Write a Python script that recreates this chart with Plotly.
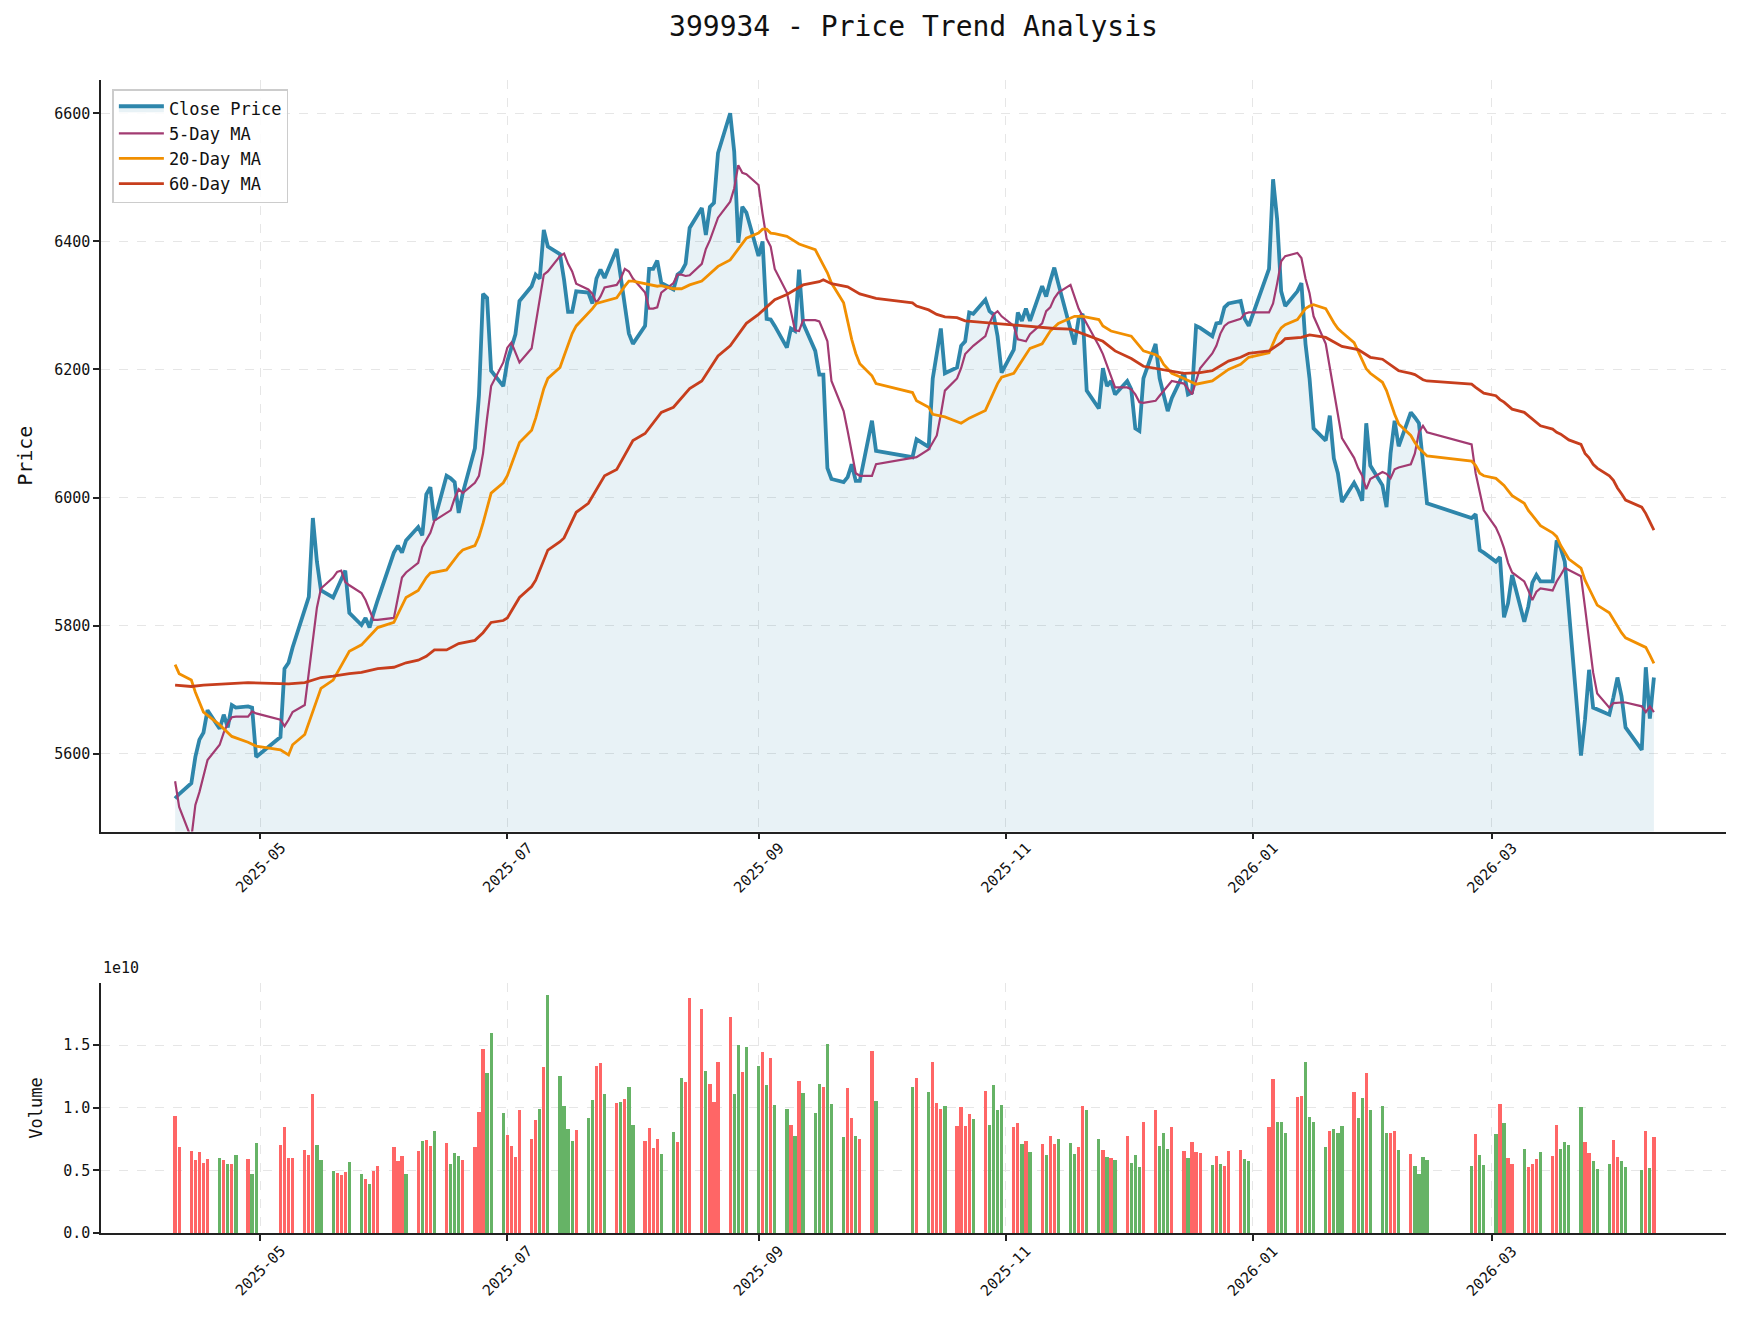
import pandas as pd
import plotly.graph_objects as go

# ---------------- data ----------------
holidays = ['2025-05-01', '2025-05-02', '2025-05-05', '2025-06-02',
            '2025-10-01', '2025-10-02', '2025-10-03', '2025-10-06', '2025-10-07', '2025-10-08',
            '2026-01-01', '2026-01-02',
            '2026-02-16', '2026-02-17', '2026-02-18', '2026-02-19', '2026-02-20', '2026-02-23',
            '2026-04-06']
dates = [d.strftime('%Y-%m-%d') for d in pd.bdate_range('2025-04-10', '2026-04-10')
         if d.strftime('%Y-%m-%d') not in holidays]

close = [
    # 2025-04
    5530, 5537, 5554, 5595, 5622, 5633, 5668, 5639, 5661, 5641, 5676, 5672, 5674, 5672, 5595,
    # 2025-05
    5626, 5733, 5742, 5766, 5825, 5845, 5968, 5900, 5855, 5844, 5858, 5872, 5886, 5820,
    5801, 5812, 5797, 5820, 5840,
    # 2025-06
    5914, 5925, 5914, 5933, 5954, 5941, 6005, 6016, 5964, 6034, 6030, 6024, 5976, 6007,
    6077, 6160, 6318, 6312, 6198, 6174,
    # 2025-07
    6213, 6233, 6255, 6307, 6330, 6348, 6342, 6418, 6392, 6380, 6340, 6290, 6290, 6322,
    6320, 6303, 6342, 6356, 6343, 6388, 6345, 6298, 6256,
    # 2025-08
    6240, 6268, 6357, 6357, 6370, 6335, 6325, 6348, 6353, 6365, 6421, 6452, 6410, 6454,
    6460, 6538, 6600, 6540, 6398, 6454, 6445,
    # 2025-09
    6377, 6400, 6279, 6278, 6268, 6234, 6264, 6260, 6356, 6272, 6229, 6192, 6192, 6046,
    6029, 6024, 6032, 6052, 6026, 6026, 6120, 6073,
    # 2025-10
    6063, 6091, 6079, 6186, 6225, 6264, 6194, 6203, 6237, 6244, 6289, 6287, 6309, 6291,
    6286, 6252, 6195,
    # 2025-11
    6231, 6289, 6276, 6295, 6276, 6330, 6314, 6338, 6359, 6334, 6260, 6239, 6279, 6287,
    6167, 6139, 6202, 6174, 6182, 6161,
    # 2025-12
    6182, 6169, 6108, 6104, 6186, 6240, 6186, 6161, 6135, 6155, 6195, 6161, 6164, 6268,
    6265, 6252, 6272, 6273, 6297, 6303, 6307, 6279, 6268,
    # 2026-01
    6357, 6497, 6435, 6322, 6299, 6322, 6335, 6240, 6186, 6108, 6089, 6128, 6061, 6038,
    5993, 6023, 6011, 5995, 6116, 6050,
    # 2026-02
    6019, 5985, 6069, 6120, 6080, 6133, 6125, 6116, 6055, 5991, 5968, 5974, 5918, 5914,
    # 2026-03
    5900, 5907, 5813, 5835, 5879, 5806, 5830, 5867, 5879, 5869, 5869, 5933, 5921, 5900,
    5825, 5597, 5654, 5731, 5672, 5669, 5661, 5688,
    # 2026-04
    5719, 5690, 5641, 5606, 5735, 5655, 5719,
]

ma5 = [
    5557, 5517, 5468, 5520, 5540, 5563, 5590, 5614, 5633, 5647, 5657, 5658, 5658, 5666, 5663,
    5653, 5643, 5653, 5665, 5676, 5727, 5781, 5828, 5858, 5875, 5884, 5886, 5868, 5863,
    5851, 5840, 5824, 5809, 5809,
    5812, 5844, 5875, 5883, 5898, 5923, 5933, 5945, 5964, 5976, 5980, 5999, 6013, 6007,
    6023, 6034, 6069, 6124, 6174, 6211,
    6234, 6242, 6226, 6211, 6233, 6272, 6311, 6348, 6353, 6377, 6381, 6365, 6353, 6334,
    6325, 6318, 6304, 6314, 6328, 6332, 6342, 6357, 6353,
    6342, 6320, 6295, 6295, 6297, 6320, 6335, 6348, 6348, 6346, 6347, 6365, 6388, 6402,
    6419, 6437, 6462, 6483, 6519, 6507, 6505,
    6488, 6443, 6404, 6392, 6357, 6320, 6291, 6261, 6260, 6277, 6277, 6275, 6260, 6244,
    6182, 6135, 6104, 6069, 6038, 6034, 6034, 6052,
    6061, 6063, 6075, 6085, 6097, 6130, 6167, 6186, 6202, 6224, 6231, 6237, 6252, 6272,
    6286, 6291, 6283,
    6268, 6247, 6246, 6244, 6255, 6272, 6291, 6297, 6311, 6320, 6332, 6312, 6295, 6283,
    6272, 6237, 6224, 6206, 6191, 6172,
    6172, 6169, 6161, 6149, 6148, 6151, 6159, 6167, 6174, 6182, 6178, 6170, 6161, 6182,
    6202, 6225, 6237, 6256, 6268, 6273, 6279, 6287, 6289,
    6289, 6303, 6334, 6369, 6377, 6382, 6374, 6342, 6319, 6283, 6240, 6202, 6167, 6132,
    6093, 6062, 6046, 6034, 6013, 6029,
    6040, 6037, 6030, 6044, 6047, 6052, 6069, 6102, 6112, 6102, 6083, 6038, 6007, 5980,
    5953, 5939, 5921, 5898, 5883, 5869, 5855, 5840, 5853, 5858, 5855, 5869, 5879, 5890,
    5887, 5877, 5828, 5774, 5727, 5694, 5672, 5679,
    5680, 5680, 5680, 5674, 5665, 5674, 5665,
]

ma20_dates = [
    '2025-04-10', '2025-04-11', '2025-04-14', '2025-04-15', '2025-04-17', '2025-04-21', '2025-04-24',
    '2025-04-28', '2025-04-30', '2025-05-06', '2025-05-08', '2025-05-09', '2025-05-12', '2025-05-14',
    '2025-05-16', '2025-05-19', '2025-05-23', '2025-05-26', '2025-05-30', '2025-06-03', '2025-06-06',
    '2025-06-09', '2025-06-11', '2025-06-12', '2025-06-16', '2025-06-19', '2025-06-20', '2025-06-23',
    '2025-06-24', '2025-06-25', '2025-06-27', '2025-06-30', '2025-07-01', '2025-07-04', '2025-07-07',
    '2025-07-08', '2025-07-10', '2025-07-11', '2025-07-14', '2025-07-15', '2025-07-17', '2025-07-18',
    '2025-07-21', '2025-07-22', '2025-07-23', '2025-07-25', '2025-07-28', '2025-07-30', '2025-07-31',
    '2025-08-01', '2025-08-04', '2025-08-07', '2025-08-08', '2025-08-11', '2025-08-13', '2025-08-15',
    '2025-08-18', '2025-08-20', '2025-08-22', '2025-08-25', '2025-08-27', '2025-08-28', '2025-08-29',
    '2025-09-01', '2025-09-02', '2025-09-03', '2025-09-04', '2025-09-05', '2025-09-08', '2025-09-10',
    '2025-09-11', '2025-09-15', '2025-09-16', '2025-09-17', '2025-09-18', '2025-09-19', '2025-09-22',
    '2025-09-23', '2025-09-24', '2025-09-25', '2025-09-26', '2025-09-29', '2025-09-30', '2025-10-09',
    '2025-10-10', '2025-10-13', '2025-10-14', '2025-10-17', '2025-10-21', '2025-10-23', '2025-10-27',
    '2025-10-30', '2025-10-31', '2025-11-03', '2025-11-07', '2025-11-10', '2025-11-12', '2025-11-14',
    '2025-11-18', '2025-11-20', '2025-11-24', '2025-11-25', '2025-11-27', '2025-12-02', '2025-12-04',
    '2025-12-05', '2025-12-08', '2025-12-09', '2025-12-10', '2025-12-12', '2025-12-15', '2025-12-18',
    '2025-12-22', '2025-12-26', '2025-12-29', '2025-12-31', '2026-01-05', '2026-01-06', '2026-01-07',
    '2026-01-08', '2026-01-09', '2026-01-12', '2026-01-13', '2026-01-14', '2026-01-15', '2026-01-16',
    '2026-01-19', '2026-01-20', '2026-01-21', '2026-01-22', '2026-01-23', '2026-01-26', '2026-01-27',
    '2026-01-28', '2026-01-29', '2026-01-30', '2026-02-02', '2026-02-03', '2026-02-04', '2026-02-05',
    '2026-02-06', '2026-02-09', '2026-02-10', '2026-02-11', '2026-02-12', '2026-02-13', '2026-02-24',
    '2026-02-25', '2026-02-26', '2026-02-27', '2026-03-02', '2026-03-03', '2026-03-04', '2026-03-05',
    '2026-03-06', '2026-03-09', '2026-03-10', '2026-03-11', '2026-03-12', '2026-03-13', '2026-03-16',
    '2026-03-17', '2026-03-18', '2026-03-19', '2026-03-20', '2026-03-23', '2026-03-24', '2026-03-25',
    '2026-03-26', '2026-03-27', '2026-03-30', '2026-03-31', '2026-04-01', '2026-04-02', '2026-04-03',
    '2026-04-07', '2026-04-08', '2026-04-09', '2026-04-10',
]
ma20_values = [
    5739, 5725, 5715, 5696, 5665, 5645, 5627,
    5618, 5612, 5606, 5598, 5614, 5630, 5665,
    5702, 5715, 5760, 5770, 5797, 5805, 5844,
    5855, 5875, 5882, 5887, 5912, 5918, 5925,
    5939, 5960, 6007, 6023, 6034, 6086, 6105,
    6124, 6170, 6186, 6203, 6221, 6256, 6268,
    6287, 6295, 6303, 6307, 6312, 6330, 6338,
    6338, 6334, 6330, 6331, 6326, 6326, 6332,
    6338, 6349, 6361, 6371, 6388, 6398, 6405,
    6413, 6419, 6419, 6413, 6412, 6408, 6400,
    6396, 6387, 6374, 6363, 6351, 6335, 6304,
    6273, 6247, 6225, 6209, 6190, 6178, 6164,
    6151, 6141, 6130, 6126, 6116, 6124, 6136,
    6178, 6188, 6194, 6233, 6240, 6260, 6272,
    6283, 6283, 6278, 6268, 6260, 6252, 6237,
    6229, 6223, 6219, 6208, 6194, 6186, 6177,
    6182, 6200, 6208, 6219, 6226, 6240, 6255,
    6265, 6270, 6278, 6287, 6295, 6299, 6301,
    6295, 6283, 6273, 6264, 6258, 6242, 6229,
    6216, 6201, 6194, 6180, 6167, 6147, 6130,
    6115, 6097, 6086, 6077, 6071, 6065, 6057,
    6050, 6038, 6034, 6030, 6024, 6019, 6011,
    6003, 5991, 5980, 5972, 5964, 5956, 5945,
    5939, 5925, 5914, 5904, 5890, 5871, 5858,
    5844, 5832, 5820, 5809, 5798, 5789, 5781,
    5770, 5766, 5754, 5741,
]

ma60_dates = [
    '2025-04-10', '2025-04-14', '2025-04-17', '2025-04-28', '2025-05-08', '2025-05-12', '2025-05-16',
    '2025-05-19', '2025-05-23', '2025-05-26', '2025-05-30', '2025-06-03', '2025-06-06', '2025-06-09',
    '2025-06-11', '2025-06-13', '2025-06-16', '2025-06-19', '2025-06-23', '2025-06-25', '2025-06-27',
    '2025-06-30', '2025-07-01', '2025-07-04', '2025-07-07', '2025-07-08', '2025-07-11', '2025-07-14',
    '2025-07-15', '2025-07-18', '2025-07-21', '2025-07-25', '2025-07-28', '2025-08-01', '2025-08-04',
    '2025-08-08', '2025-08-11', '2025-08-15', '2025-08-18', '2025-08-22', '2025-08-25', '2025-08-29',
    '2025-09-01', '2025-09-04', '2025-09-05', '2025-09-08', '2025-09-12', '2025-09-16', '2025-09-17',
    '2025-09-19', '2025-09-23', '2025-09-26', '2025-09-30', '2025-10-09', '2025-10-10', '2025-10-13',
    '2025-10-15', '2025-10-17', '2025-10-20', '2025-10-22', '2025-10-29', '2025-11-03', '2025-11-10',
    '2025-11-13', '2025-11-17', '2025-11-20', '2025-11-25', '2025-11-28', '2025-12-02', '2025-12-05',
    '2025-12-08', '2025-12-10', '2025-12-15', '2025-12-19', '2025-12-22', '2025-12-26', '2025-12-29',
    '2025-12-31', '2026-01-05', '2026-01-08', '2026-01-09', '2026-01-13', '2026-01-15', '2026-01-19',
    '2026-01-23', '2026-01-27', '2026-01-30', '2026-02-02', '2026-02-05', '2026-02-06', '2026-02-09',
    '2026-02-10', '2026-02-11', '2026-02-12', '2026-02-13', '2026-02-24', '2026-02-25', '2026-02-26',
    '2026-02-27', '2026-03-02', '2026-03-03', '2026-03-04', '2026-03-05', '2026-03-06', '2026-03-09',
    '2026-03-10', '2026-03-11', '2026-03-12', '2026-03-13', '2026-03-16', '2026-03-17', '2026-03-18',
    '2026-03-19', '2026-03-20', '2026-03-23', '2026-03-24', '2026-03-25', '2026-03-26', '2026-03-27',
    '2026-03-30', '2026-03-31', '2026-04-01', '2026-04-02', '2026-04-03', '2026-04-07', '2026-04-08',
    '2026-04-09', '2026-04-10',
]
ma60_values = [
    5707, 5705, 5707, 5711, 5709, 5711, 5719,
    5721, 5725, 5727, 5733, 5735, 5742, 5746,
    5752, 5762, 5762, 5772, 5777, 5789, 5805,
    5808, 5812, 5844, 5861, 5871, 5918, 5931,
    5937, 5977, 5991, 6034, 6044, 6089, 6100,
    6133, 6141, 6170, 6182, 6221, 6237, 6272,
    6286, 6304, 6309, 6317, 6332, 6337, 6340,
    6334, 6329, 6318, 6311, 6304, 6299, 6293,
    6286, 6282, 6281, 6276, 6272, 6270, 6265,
    6264, 6263, 6256, 6244, 6229, 6217, 6205,
    6202, 6200, 6194, 6195, 6198, 6213, 6219,
    6225, 6229, 6242, 6248, 6250, 6254, 6250,
    6236, 6231, 6219, 6216, 6203, 6198, 6194,
    6192, 6188, 6184, 6182, 6177, 6172, 6167,
    6163, 6159, 6153, 6149, 6143, 6138, 6133,
    6128, 6122, 6117, 6112, 6107, 6102, 6099,
    6095, 6090, 6083, 6069, 6062, 6052, 6046,
    6034, 6027, 6015, 6006, 5996, 5985, 5975,
    5962, 5949,
]

# volume, in units of 1e10
volume = [
    0.936, 0.689, 0.657, 0.585, 0.649, 0.561, 0.593, 0.601, 0.585, 0.553, 0.553, 0.625, 0.593, 0.473, 0.721,
    0.705, 0.848, 0.601, 0.601, 0.665, 0.625, 1.112, 0.705, 0.585, 0.497, 0.481, 0.465, 0.489, 0.569,
    0.473, 0.434, 0.394, 0.497, 0.537,
    0.689, 0.577, 0.617, 0.473, 0.657, 0.737, 0.745, 0.697, 0.816, 0.721, 0.553, 0.641, 0.617, 0.585,
    0.689, 0.968, 1.471, 1.279, 1.598, 0.960,
    0.785, 0.697, 0.609, 0.984, 0.753, 0.904, 0.992, 1.327, 1.902, 1.255, 1.016, 0.832, 0.737, 0.824,
    0.920, 1.064, 1.335, 1.359, 1.112, 1.040, 1.048, 1.072, 1.168,
    0.864, 0.737, 0.840, 0.681, 0.753, 0.633, 0.809, 0.729, 1.239, 1.207, 1.878, 1.790, 1.295, 1.191,
    1.048, 1.367, 1.726, 1.112, 1.503, 1.287, 1.487,
    1.335, 1.447, 1.184, 1.399, 1.024, 0.992, 0.864, 0.777, 1.215, 1.120, 0.960, 1.191, 1.168, 1.511,
    1.032, 0.769, 1.160, 0.920, 0.777, 0.753, 1.455, 1.056,
    1.168, 1.239, 1.128, 1.367, 1.040, 0.992, 1.016, 0.856, 1.008, 0.856, 0.952, 0.912, 1.136, 0.864,
    1.184, 0.984, 1.024,
    0.848, 0.880, 0.713, 0.737, 0.649, 0.713, 0.625, 0.777, 0.713, 0.753, 0.721, 0.633, 0.689, 1.016,
    0.984, 0.753, 0.665, 0.609, 0.601, 0.585,
    0.777, 0.561, 0.625, 0.529, 0.888, 0.984, 0.697, 0.801, 0.673, 0.848, 0.657, 0.601, 0.729, 0.649,
    0.641, 0.545, 0.617, 0.553, 0.537, 0.657, 0.665, 0.593, 0.577,
    0.848, 1.231, 0.888, 0.888, 0.801, 1.088, 1.096, 1.367, 0.928, 0.888, 0.689, 0.816, 0.832, 0.801,
    0.856, 1.128, 0.920, 1.080, 1.279, 0.984,
    1.016, 0.801, 0.801, 0.816, 0.665, 0.633, 0.537, 0.473, 0.609, 0.585, 0.537, 0.793, 0.625, 0.545,
    0.793, 1.032, 0.880, 0.601, 0.553, 0.673, 0.529, 0.553, 0.593, 0.649, 0.617, 0.864, 0.673, 0.729,
    0.705, 1.008, 0.729, 0.641, 0.577, 0.513, 0.553, 0.745,
    0.609, 0.577, 0.529, 0.505, 0.816, 0.521, 0.769,
]

# R = up day (red), G = down day (green)
volume_direction = ("RRRRRRRGRGRGRGG" "RRRRRRRGGGRRRGGRGRR" "RRRGRGRRGRGGGRRRRGGG"
                    "RRRRRRGRGGGGGRGGRRGRGRG" "GRRRRGGRGRRRGRRRRGGRG" "GRGRGGRGRGGGRGGGRRGRRG"
                    "GRGRRRGRRRRGRGGGG" "RRGRGRGRRGGGRRGGRGRG" "RGGGRRGGGRRGRRRGRGRRRGG"
                    "RRGGGRRGGGGRGGGRGGRG" "GGRRGRGGGGGRGG" "GRGRRGRRRGRRGGGGRRGGGR" "RGGGRGR")

month_ticks = ["2025-05-01", "2025-07-01", "2025-09-01", "2025-11-01", "2026-01-01", "2026-03-01"]
month_labels = ["2025-05", "2025-07", "2025-09", "2025-11", "2026-01", "2026-03"]

n = len(dates)
for name, arr in [('close', close), ('ma5', ma5), ('volume', volume), ('dir', volume_direction)]:
    if len(arr) != n:
        raise ValueError(f"{name}: {len(arr)} != {n}")

# ---------------- style ----------------
FONT = "DejaVu Sans Mono"
C_CLOSE = "#2E86AB"
C_MA5 = "#A23B72"
C_MA20 = "#F18F01"
C_MA60 = "#C73E1D"
GRID = "#e6e6e6"
bar_colors = ["rgb(255,102,102)" if c == "R" else "rgb(102,179,102)" for c in volume_direction]

fig = go.Figure()

fig.add_trace(go.Scatter(x=dates, y=close, mode="lines", name="Close Price",
                         line=dict(color=C_CLOSE, width=3.8),
                         fill="tozeroy", fillcolor="rgba(46,134,171,0.11)",
                         xaxis="x", yaxis="y"))
fig.add_trace(go.Scatter(x=dates, y=ma5, mode="lines", name="5-Day MA",
                         line=dict(color=C_MA5, width=2.2), xaxis="x", yaxis="y"))
fig.add_trace(go.Scatter(x=ma20_dates, y=ma20_values, mode="lines", name="20-Day MA",
                         line=dict(color=C_MA20, width=2.8), xaxis="x", yaxis="y"))
fig.add_trace(go.Scatter(x=ma60_dates, y=ma60_values, mode="lines", name="60-Day MA",
                         line=dict(color=C_MA60, width=2.8), xaxis="x", yaxis="y"))

fig.add_trace(go.Bar(x=dates, y=volume, marker=dict(color=bar_colors, line=dict(width=0)),
                     width=0.8 * 86400000, showlegend=False, xaxis="x2", yaxis="y2"))

xrange = ["2025-03-22 17:00", "2026-04-27 19:00"]

common_x = dict(type="date", range=xrange, tickvals=month_ticks, showticklabels=False,
                showgrid=True, gridcolor=GRID, griddash="dash", gridwidth=1,
                showline=True, linecolor="#222222", linewidth=1.5, ticks="outside",
                ticklen=6, tickwidth=1.5, tickcolor="#222222", zeroline=False)

TICKFONT = dict(family=FONT, size=15, color="#111111")

fig.update_layout(
    width=1743, height=1328,
    margin=dict(l=101, r=17, t=80, b=95),
    paper_bgcolor="white", plot_bgcolor="white",
    font=dict(family=FONT, color="#111111"),
    title=dict(text="399934 - Price Trend Analysis", x=0.5, xref="paper", xanchor="center",
               y=0.98, yanchor="middle", font=dict(family=FONT, size=28, color="#111111")),
    xaxis=dict(domain=[0, 1], anchor="y", **common_x),
    yaxis=dict(domain=[0.3482, 1.0], range=[5478.5, 6652], anchor="x",
               tickvals=[5600, 5800, 6000, 6200, 6400, 6600],
               showgrid=True, gridcolor=GRID, griddash="dash", gridwidth=1,
               showline=True, linecolor="#222222", linewidth=1.5, ticks="outside",
               ticklen=6, tickwidth=1.5, tickcolor="#222222", zeroline=False,
               tickfont=TICKFONT,
               title=dict(text="Price", font=dict(family=FONT, size=20), standoff=16)),
    xaxis2=dict(domain=[0, 1], anchor="y2", **common_x),
    yaxis2=dict(domain=[0, 0.2168], range=[0, 1.997], anchor="x2",
                tickvals=[0, 0.5, 1.0, 1.5], ticktext=["0.0", "0.5", "1.0", "1.5"],
                showgrid=True, gridcolor=GRID, griddash="dash", gridwidth=1,
                showline=True, linecolor="#222222", linewidth=1.5, ticks="outside",
                ticklen=6, tickwidth=1.5, tickcolor="#222222", zeroline=False,
                tickfont=TICKFONT,
                title=dict(text="Volume", font=dict(family=FONT, size=17), standoff=16)),
    legend=dict(x=0.007, y=0.992, xanchor="left", yanchor="top",
                bgcolor="rgba(255,255,255,0.85)", bordercolor="#cccccc", borderwidth=1.5,
                font=dict(family=FONT, size=17, color="#111111"),
                tracegroupgap=2, itemwidth=45),
    bargap=0,
    showlegend=True,
)

# rotated month labels centred under their ticks (matplotlib style)
for xref, ybase, shift in [("x", 0.3482, -36), ("x2", 0.0, -38)]:
    for tv, tl in zip(month_ticks, month_labels):
        fig.add_annotation(text=tl, x=tv, xref=xref, y=ybase, yref="paper",
                           xanchor="center", yanchor="middle", yshift=shift,
                           textangle=-45, showarrow=False, font=TICKFONT)

fig.add_annotation(text="1e10", xref="paper", yref="paper", x=0, y=0.2168,
                   xanchor="left", yanchor="bottom", showarrow=False, yshift=4,
                   font=dict(family=FONT, size=15, color="#111111"))

fig.write_html("out.html")
